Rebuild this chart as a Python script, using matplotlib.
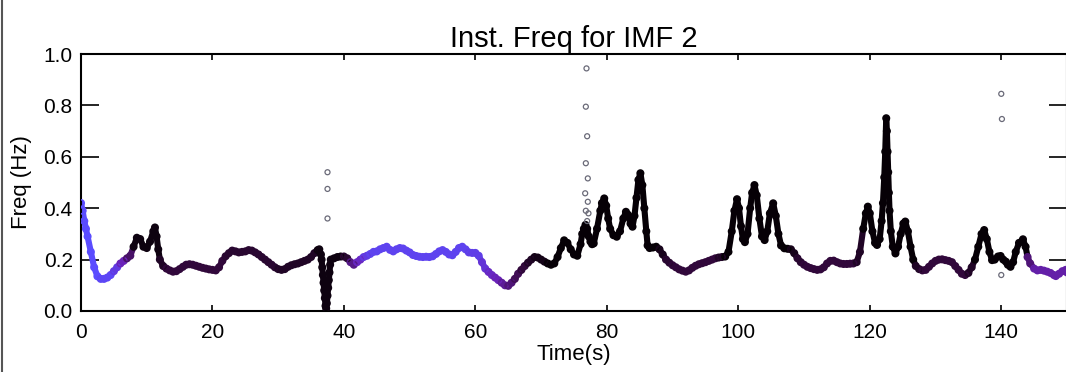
import numpy as np
import matplotlib
matplotlib.use("Agg")
import matplotlib.pyplot as plt
from matplotlib.colors import LinearSegmentedColormap
from matplotlib.collections import LineCollection
from matplotlib.lines import Line2D

plt.rcParams['font.family'] = ['Liberation Sans', 'DejaVu Sans']

# ---- data ----
time_s = [
    0.0, 0.25, 0.5, 0.75, 1.0, 1.5, 2.0, 2.5, 3.0, 3.5, 4.0, 4.5, 5.0, 5.5, 6.0, 6.5, 7.0, 7.5,
    8.0, 8.5, 9.0, 9.5, 10.0, 10.5, 11.0, 11.25, 11.5, 11.75, 12.0, 12.5, 13.0, 13.5, 14.0, 14.5,
    15.0, 15.5, 16.0, 16.5, 17.0, 17.5, 18.0, 18.5, 19.0, 19.5, 20.0, 20.5, 21.0, 21.5, 22.0, 22.5,
    23.0, 23.5, 24.0, 24.5, 25.0, 25.5, 26.0, 26.5, 27.0, 27.5, 28.0, 28.5, 29.0, 29.5, 30.0, 30.5,
    31.0, 31.5, 32.0, 32.5, 33.0, 33.5, 34.0, 34.5, 35.0, 35.5, 36.0, 36.25, 36.5, 36.6, 36.7, 36.8,
    36.9, 37.0, 37.1, 37.2, 37.3, 37.4, 37.5, 37.6, 37.7, 37.8, 37.9, 38.0, 38.5, 39.0, 39.5, 40.0,
    40.5, 41.0, 41.5, 42.0, 42.5, 43.0, 43.5, 44.0, 44.5, 45.0, 45.5, 46.0, 46.5, 47.0, 47.5, 48.0,
    48.5, 49.0, 49.5, 50.0, 50.5, 51.0, 51.5, 52.0, 52.5, 53.0, 53.5, 54.0, 54.5, 55.0, 55.5, 56.0,
    56.5, 57.0, 57.5, 58.0, 58.5, 59.0, 59.5, 60.0, 60.5, 61.0, 61.5, 62.0, 62.5, 63.0, 63.5, 64.0,
    64.5, 65.0, 65.5, 66.0, 66.5, 67.0, 67.5, 68.0, 68.5, 69.0, 69.5, 70.0, 70.5, 71.0, 71.5, 72.0,
    72.5, 73.0, 73.5, 74.0, 74.5, 75.0, 75.5, 76.0, 76.25, 76.5, 76.75, 77.0, 77.25, 77.5, 77.75, 78.0,
    78.5, 79.0, 79.25, 79.6, 79.9, 80.2, 80.5, 81.0, 81.5, 82.0, 82.5, 82.9, 83.2, 83.6, 83.9, 84.2,
    84.5, 84.8, 85.1, 85.4, 85.7, 86.0, 86.2, 86.5, 87.0, 87.5, 88.0, 88.5, 89.0, 89.5, 90.0, 90.5,
    91.0, 91.5, 92.0, 92.5, 93.0, 93.5, 94.0, 94.5, 95.0, 95.5, 96.0, 96.5, 97.0, 97.5, 98.0, 98.5,
    99.0, 99.4, 99.8, 100.1, 100.4, 100.7, 101.0, 101.4, 101.8, 102.1, 102.45, 102.8, 103.2, 103.6,
    104.0, 104.4, 104.8, 105.3, 105.7, 106.1, 106.5, 107.0, 107.5, 108.0, 108.5, 109.0, 109.5, 110.0,
    110.5, 111.0, 111.5, 112.0, 112.5, 113.0, 113.5, 114.0, 114.5, 115.0, 115.5, 116.0, 116.5, 117.0,
    117.5, 118.0, 118.5, 119.0, 119.4, 119.7, 120.0, 120.4, 120.8, 121.1, 121.5, 121.8, 122.0, 122.2,
    122.35, 122.5, 122.6, 122.7, 122.8, 122.9, 123.0, 123.2, 123.5, 123.9, 124.3, 124.7, 125.1, 125.4,
    125.8, 126.2, 126.6, 127.0, 127.5, 128.0, 128.5, 129.0, 129.5, 130.0, 130.5, 131.0, 131.5, 132.0,
    132.5, 133.0, 133.5, 134.0, 134.5, 135.0, 135.5, 136.0, 136.5, 137.0, 137.4, 137.8, 138.2, 138.6,
    139.0, 139.5, 139.9, 140.3, 140.7, 141.0, 141.4, 141.8, 142.2, 142.7, 143.3, 143.7, 144.0, 144.4,
    145.0, 145.5, 146.0, 146.5, 147.0, 147.5, 148.0, 148.3, 148.8, 149.3, 149.8, 150.0,
]
freq_hz = [
    0.42, 0.39, 0.35, 0.32, 0.29, 0.23, 0.17, 0.135, 0.125, 0.125, 0.13, 0.14, 0.155, 0.17, 0.185, 0.195, 0.205, 0.215,
    0.25, 0.285, 0.28, 0.25, 0.245, 0.27, 0.31, 0.325, 0.29, 0.24, 0.20, 0.175, 0.165, 0.158, 0.153, 0.155,
    0.163, 0.172, 0.18, 0.182, 0.18, 0.176, 0.172, 0.168, 0.165, 0.162, 0.16, 0.158, 0.17, 0.195, 0.213, 0.225,
    0.235, 0.232, 0.228, 0.23, 0.232, 0.237, 0.235, 0.228, 0.22, 0.21, 0.20, 0.19, 0.18, 0.17, 0.163, 0.16,
    0.163, 0.172, 0.178, 0.182, 0.185, 0.19, 0.195, 0.20, 0.21, 0.225, 0.237, 0.24, 0.22, 0.20, 0.17, 0.14,
    0.11, 0.08, 0.05, 0.02, 0.01, 0.03, 0.06, 0.09, 0.12, 0.15, 0.18, 0.20, 0.205, 0.21, 0.212, 0.212,
    0.205, 0.19, 0.18, 0.19, 0.20, 0.21, 0.215, 0.222, 0.23, 0.232, 0.24, 0.245, 0.25, 0.238, 0.232, 0.24,
    0.245, 0.243, 0.235, 0.228, 0.218, 0.214, 0.211, 0.21, 0.211, 0.21, 0.213, 0.222, 0.232, 0.237, 0.23, 0.22,
    0.217, 0.23, 0.245, 0.25, 0.24, 0.228, 0.226, 0.226, 0.215, 0.19, 0.165, 0.152, 0.14, 0.13, 0.12, 0.11,
    0.10, 0.098, 0.11, 0.125, 0.145, 0.16, 0.175, 0.188, 0.20, 0.21, 0.208, 0.20, 0.192, 0.185, 0.18, 0.185,
    0.21, 0.245, 0.275, 0.265, 0.24, 0.22, 0.215, 0.26, 0.30, 0.32, 0.335, 0.32, 0.29, 0.27, 0.26, 0.263,
    0.32, 0.39, 0.42, 0.438, 0.41, 0.36, 0.32, 0.295, 0.289, 0.31, 0.36, 0.386, 0.375, 0.34, 0.328, 0.37,
    0.44, 0.51, 0.536, 0.49, 0.40, 0.31, 0.255, 0.245, 0.247, 0.25, 0.24, 0.22, 0.20, 0.188, 0.178, 0.17,
    0.162, 0.157, 0.153, 0.158, 0.168, 0.176, 0.182, 0.186, 0.19, 0.195, 0.20, 0.205, 0.208, 0.21, 0.212, 0.23,
    0.31, 0.39, 0.435, 0.40, 0.33, 0.28, 0.268, 0.30, 0.40, 0.46, 0.49, 0.45, 0.36, 0.29,
    0.276, 0.31, 0.38, 0.419, 0.37, 0.30, 0.255, 0.244, 0.242, 0.24, 0.225, 0.205, 0.19, 0.18,
    0.172, 0.167, 0.163, 0.16, 0.162, 0.17, 0.185, 0.195, 0.196, 0.19, 0.185, 0.183, 0.183, 0.184,
    0.185, 0.19, 0.23, 0.32, 0.38, 0.406, 0.38, 0.31, 0.265, 0.257, 0.28, 0.35, 0.42, 0.52,
    0.62, 0.75, 0.70, 0.62, 0.54, 0.46, 0.39, 0.31, 0.25, 0.224, 0.25, 0.30, 0.34, 0.348,
    0.31, 0.25, 0.20, 0.175, 0.163, 0.158, 0.16, 0.172, 0.185, 0.195, 0.20, 0.201, 0.198, 0.195,
    0.19, 0.175, 0.16, 0.145, 0.14, 0.148, 0.17, 0.20, 0.25, 0.30, 0.315, 0.28, 0.23, 0.198,
    0.20, 0.212, 0.214, 0.20, 0.192, 0.18, 0.172, 0.19, 0.23, 0.265, 0.279, 0.25, 0.21, 0.185,
    0.165, 0.158, 0.16, 0.157, 0.153, 0.148, 0.14, 0.136, 0.145, 0.155, 0.16, 0.15,
]

# isolated outlier samples
spike_time = [37.5, 37.5, 37.5, 76.9, 76.8, 77.0, 76.8, 77.1, 76.7, 77.1, 76.8, 77.2, 77.0,
              140.0, 140.1, 140.0]
spike_freq = [0.54, 0.475, 0.36, 0.944, 0.795, 0.68, 0.575, 0.516, 0.458, 0.425, 0.39, 0.38, 0.35,
              0.845, 0.747, 0.14]

# amplitude level (0 = weak/blue ... 1 = strong/black) starting at each break time
amp_break_t = [0, 3, 5, 6, 7, 8, 12, 13, 22, 30, 36, 40, 41, 42, 43, 44, 59, 61, 62, 63, 64, 65,
               66, 67, 68, 69, 71, 88, 89, 90, 97, 98, 108, 109, 110, 118, 119, 127, 128, 135, 136,
               144, 145]
amp_level = [0.0, 0.05, 0.15, 0.35, 0.6, 0.95, 0.85, 0.75, 0.8, 0.85, 0.95, 0.8, 0.5, 0.3, 0.15, 0.08,
             0.12, 0.2, 0.3, 0.35, 0.45, 0.55, 0.65, 0.75, 0.85, 0.92, 1.0, 0.9, 0.8, 0.75, 0.85, 1.0,
             0.9, 0.8, 0.75, 0.85, 1.0, 0.85, 0.75, 0.85, 1.0, 0.55, 0.4]

x_ticks = [0, 20, 40, 60, 80, 100, 120, 140]
y_ticks = [0.0, 0.2, 0.4, 0.6, 0.8, 1.0]

# ---- drawing ----
t = np.array(time_s)
f = np.array(freq_hz)
idx = np.searchsorted(amp_break_t, t, side='right') - 1
lev = np.array(amp_level)[idx]

cmap = LinearSegmentedColormap.from_list(
    'amp', [(0.0, '#5a4cff'), (0.35, '#6a22b8'), (0.7, '#3a0a46'), (1.0, '#060006')])
cols = cmap(lev)

fig = plt.figure(figsize=(10.66, 3.72), dpi=100)
ax = fig.add_axes([81 / 1066, 61 / 372, 986 / 1066, 257 / 372])

pts = np.column_stack([t, f])
segs = np.stack([pts[:-1], pts[1:]], axis=1)
lc = LineCollection(segs, colors=cols[:-1], linewidths=4.4, capstyle='round', zorder=2)
ax.add_collection(lc)
ax.scatter(t, f, s=22, facecolors='none', edgecolors=cols, linewidths=1.1, zorder=3)
ax.scatter(spike_time, spike_freq, s=13, facecolors='none', edgecolors='#6a6a78',
           linewidths=0.9, zorder=3)

ax.set_xlim(0, 150)
ax.set_ylim(0, 1.0)
ax.set_xticks(x_ticks)
ax.set_yticks(y_ticks)
ax.set_xticklabels([str(v) for v in x_ticks])
ax.set_yticklabels([f"{v:.1f}" for v in y_ticks])
ax.tick_params(axis='x', direction='in', length=4, width=1.2, top=True, bottom=True,
               labelsize=15, pad=9)
ax.tick_params(axis='y', direction='in', length=13, width=1.2, left=True, right=True,
               labelsize=15, pad=6)
for sp in ax.spines.values():
    sp.set_linewidth(1.5)

ax.set_xlabel('Time(s)', fontsize=16, labelpad=1)
ax.set_ylabel('Freq (Hz)', fontsize=16, labelpad=8)
ax.set_title('Inst. Freq for IMF 2', fontsize=21, pad=5)

fig.add_artist(Line2D([2 / 1066, 2 / 1066], [0, 1], color='#555555', linewidth=1.5))

fig.savefig('out.png', dpi=100)
